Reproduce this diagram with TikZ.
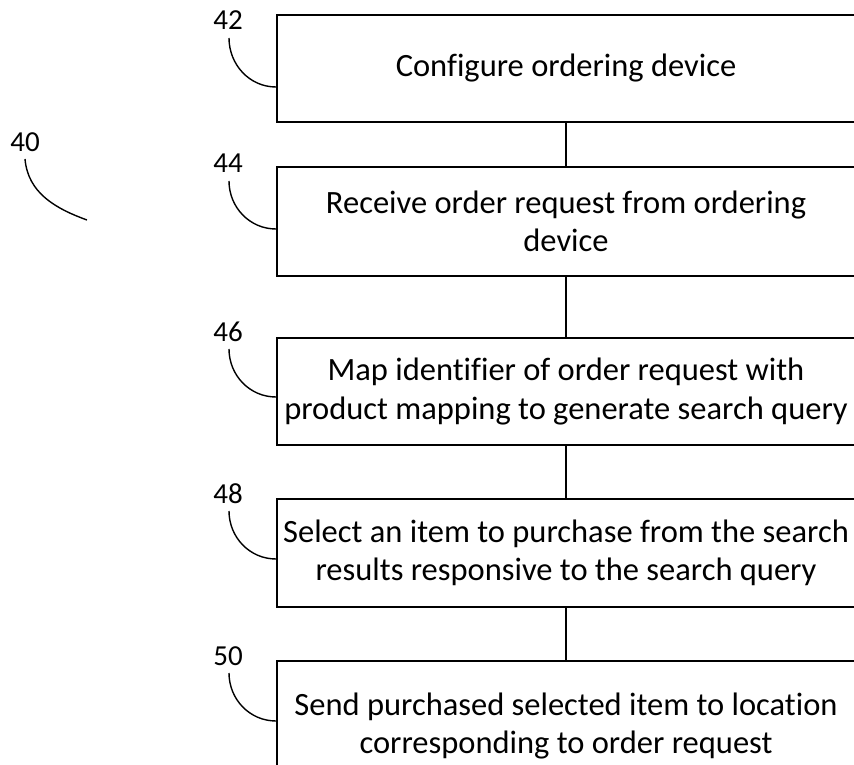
\documentclass[tikz,border=0pt]{standalone}
\usepackage{fontspec}
\setmainfont[Ligatures=CommonOff]{Carlito}
\begin{document}
\begin{tikzpicture}[x=1pt,y=1pt,
  stepbox/.style={draw=black, line width=2pt, minimum width=578pt, inner sep=0pt, align=center, font=\fontsize{32.5}{38.5}\selectfont},
  refnum/.style={inner sep=0pt, anchor=base, font=\fontsize{29}{34}\selectfont},
  leader/.style={draw=black, line width=1.4pt},
  link/.style={draw=black, line width=2pt}]
\useasboundingbox (0,0) rectangle (854,764);
\clip (0,0) rectangle (854,764);
% boxes (y in tikz = 764 - pixel y)
\node[stepbox, minimum height=107pt] (b1) at (566,695.5) {Configure ordering device};
\node[stepbox, minimum height=109pt] (b2) at (566,542.5) {Receive order request from ordering\\device};
\node[stepbox, minimum height=107pt] (b3) at (566,372.5) {Map identifier of order request with\\product mapping to generate search query};
\node[stepbox, minimum height=108pt] (b4) at (566,211) {Select an item to purchase from the search\\results responsive to the search query};
\node[stepbox, minimum height=130pt] (b5) at (566,38) {Send purchased selected item to location\\corresponding to order request};
% connectors
\draw[link] (b1.south) -- (b2.north);
\draw[link] (b2.south) -- (b3.north);
\draw[link] (b3.south) -- (b4.north);
\draw[link] (b4.south) -- (b5.north);
% reference numerals
\node[refnum] (l40) at (25,612) {40};
\node[refnum] (l42) at (228,734) {42};
\node[refnum] (l44) at (228,591) {44};
\node[refnum] (l46) at (228,422) {46};
\node[refnum] (l48) at (228,261) {48};
\node[refnum] (l50) at (228,99) {50};
% leader coordinates
\coordinate (s40) at (25,605);
\coordinate (e40) at (87,544);
\coordinate (s42) at (229,726);
\coordinate (e42) at (b1.west |- 0,677);
\coordinate (s44) at (229,583);
\coordinate (e44) at (b2.west |- 0,535);
\coordinate (s46) at (229,415);
\coordinate (e46) at (b3.west |- 0,367);
\coordinate (s48) at (229,253);
\coordinate (e48) at (b4.west |- 0,205);
\coordinate (s50) at (229,91);
\coordinate (e50) at (b5.west |- 0,43);
\draw[leader] (s40) to[out=-85,in=160] (e40);
\draw[leader] (s42) to[out=-90,in=180] (e42);
\draw[leader] (s44) to[out=-90,in=180] (e44);
\draw[leader] (s46) to[out=-90,in=180] (e46);
\draw[leader] (s48) to[out=-90,in=180] (e48);
\draw[leader] (s50) to[out=-90,in=180] (e50);
\end{tikzpicture}
\end{document}
